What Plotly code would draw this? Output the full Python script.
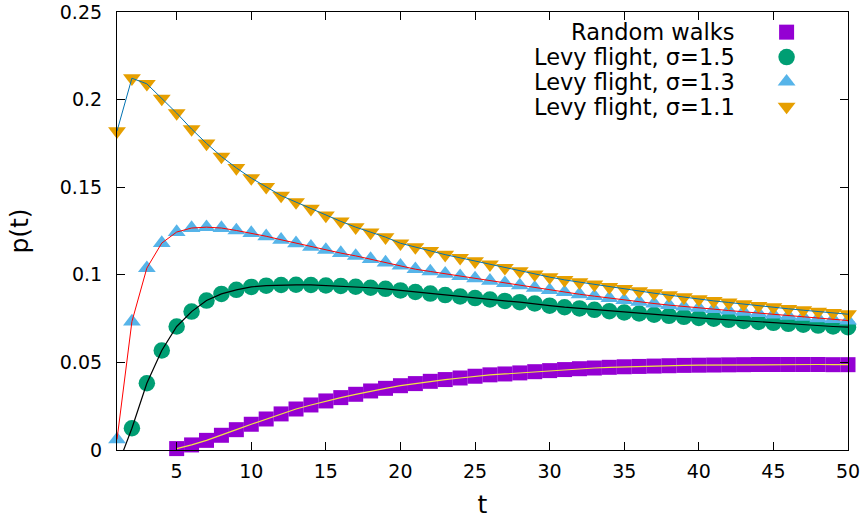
import plotly.graph_objects as go

# time steps
t_all = list(range(1, 51))
t_rw = list(range(5, 51))

# Levy flight, sigma = 1.1 (t = 1..50)
p_s11 = [0.1820, 0.2122, 0.2090, 0.2006, 0.1923, 0.1832, 0.1750, 0.1675, 0.1610, 0.1552,
         0.1502, 0.1452, 0.1415, 0.1377, 0.1339, 0.1305, 0.1272, 0.1242, 0.1215, 0.1180,
         0.1158, 0.1137, 0.1115, 0.1097, 0.1078, 0.1060, 0.1040, 0.1021, 0.1003, 0.0987,
         0.0971, 0.0958, 0.0945, 0.0931, 0.0920, 0.0907, 0.0895, 0.0884, 0.0872, 0.0861,
         0.0851, 0.0842, 0.0832, 0.0823, 0.0815, 0.0806, 0.0798, 0.0790, 0.0783, 0.0775]

# Levy flight, sigma = 1.3 (t = 1..50)
p_s13 = [0.0060, 0.0733, 0.1038, 0.1181, 0.1244, 0.1267, 0.1272, 0.1267, 0.1253, 0.1238,
         0.1220, 0.1200, 0.1180, 0.1160, 0.1142, 0.1124, 0.1108, 0.1090, 0.1070, 0.1052,
         0.1032, 0.1019, 0.1006, 0.0992, 0.0979, 0.0966, 0.0952, 0.0939, 0.0926, 0.0912,
         0.0901, 0.0889, 0.0878, 0.0867, 0.0855, 0.0846, 0.0836, 0.0827, 0.0818, 0.0811,
         0.0804, 0.0796, 0.0789, 0.0781, 0.0773, 0.0766, 0.0760, 0.0752, 0.0747, 0.0739]

# Levy flight, sigma = 1.5 (t = 1..50); the t = 1 value is below zero
p_s15 = [-0.0100, 0.0124, 0.0381, 0.0568, 0.0705, 0.0790, 0.0853, 0.0891, 0.0914, 0.0931,
         0.0938, 0.0942, 0.0943, 0.0942, 0.0939, 0.0936, 0.0932, 0.0926, 0.0920, 0.0911,
         0.0902, 0.0893, 0.0884, 0.0876, 0.0867, 0.0859, 0.0851, 0.0844, 0.0836, 0.0824,
         0.0815, 0.0808, 0.0800, 0.0792, 0.0785, 0.0779, 0.0772, 0.0766, 0.0760, 0.0754,
         0.0749, 0.0743, 0.0737, 0.0731, 0.0726, 0.0720, 0.0715, 0.0710, 0.0705, 0.0701]

# Random walks (t = 5..50)
p_rw = [0.0008, 0.0029, 0.0055, 0.0084, 0.0116, 0.0147, 0.0177, 0.0206, 0.0234, 0.0257,
        0.0280, 0.0299, 0.0318, 0.0337, 0.0352, 0.0367, 0.0379, 0.0392, 0.0402, 0.0411,
        0.0421, 0.0429, 0.0434, 0.0440, 0.0447, 0.0453, 0.0459, 0.0464, 0.0468, 0.0472,
        0.0475, 0.0477, 0.0479, 0.0481, 0.0483, 0.0484, 0.0485, 0.0486, 0.0487, 0.0488,
        0.0488, 0.0488, 0.0488, 0.0488, 0.0487, 0.0487]

legend_labels = ["Random walks", "Levy flight, σ=1.5", "Levy flight, σ=1.3", "Levy flight, σ=1.1"]

C_RW, C_15, C_13, C_11 = "#9400D3", "#009E73", "#56B4E9", "#E69F00"
FONT = "DejaVu Sans"

fig = go.Figure()


def points(x, y, symbol, size, color):
    return go.Scatter(x=x, y=y, mode="markers", cliponaxis=False,
                      marker=dict(symbol=symbol, size=size, color=color, opacity=1,
                                  line=dict(width=0)))


# simulation points
fig.add_trace(points(t_rw, p_rw, "square", 15, C_RW))
fig.add_trace(points(t_all[1:], p_s15[1:], "circle", 16.5, C_15))
fig.add_trace(points(t_all, p_s13, "triangle-up", 15.5, C_13))
fig.add_trace(points(t_all, p_s11, "triangle-down", 15.5, C_11))

# connecting curves
fig.add_trace(go.Scatter(x=t_rw, y=p_rw, mode="lines", line=dict(color="#F0E442", width=1.2)))
fig.add_trace(go.Scatter(x=t_all, y=p_s15, mode="lines", line=dict(color="black", width=1.2)))
fig.add_trace(go.Scatter(x=t_all, y=p_s13, mode="lines", line=dict(color="#FF0000", width=1.0)))
fig.add_trace(go.Scatter(x=t_all, y=p_s11, mode="lines", line=dict(color="#0072B2", width=1.0)))

# key: labels right-aligned with the sample symbol to their right
key_rows = [0.954, 0.897, 0.841, 0.784]
key_symbols = ["square", "circle", "triangle-up", "triangle-down"]
key_colors = [C_RW, C_15, C_13, C_11]
key_trace = points([0.916] * 4, key_rows, key_symbols, [15, 16.5, 15.5, 15.5], key_colors)
key_trace.update(xaxis="x2", yaxis="y2")
fig.add_trace(key_trace)
for lab, yy in zip(legend_labels, key_rows):
    fig.add_annotation(x=0.848, y=yy, xref="x2", yref="y2", text=lab, showarrow=False,
                       xanchor="right", yanchor="middle", font=dict(family=FONT, size=22.5, color="black"))

axis_common = dict(showline=True, linecolor="black", linewidth=1.2, mirror="allticks",
                   ticks="inside", ticklen=8, tickwidth=1, tickcolor="black",
                   showgrid=False, zeroline=False, automargin=False,
                   tickfont=dict(family=FONT, size=19, color="black"))

fig.update_layout(
    width=865, height=519,
    margin=dict(l=117, r=17, t=12, b=69),
    paper_bgcolor="white", plot_bgcolor="white",
    showlegend=False,
    xaxis=dict(range=[1, 50], tick0=0, dtick=5, ticklabelstandoff=4,
               title=dict(text="t", font=dict(family=FONT, size=25, color="black"), standoff=18),
               **axis_common),
    yaxis=dict(range=[0, 0.25], tick0=0, dtick=0.05, tickformat="~g", ticklabelstandoff=10,
               title=dict(text="p(t)", font=dict(family=FONT, size=25, color="black"), standoff=24),
               **axis_common),
    xaxis2=dict(range=[0, 1], overlaying="x", visible=False),
    yaxis2=dict(range=[0, 1], overlaying="y", visible=False),
)

fig.write_html("out.html")
